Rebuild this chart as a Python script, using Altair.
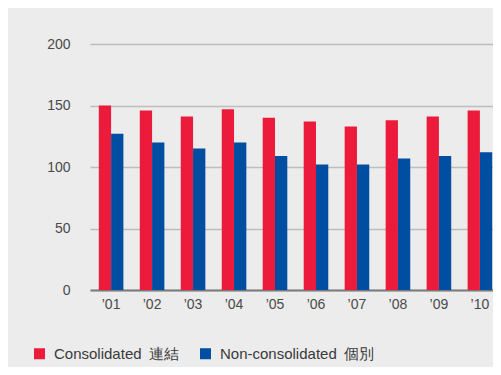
import altair as alt
import pandas as pd

years = ["\u201901", "\u201902", "\u201903", "\u201904", "\u201905",
         "\u201906", "\u201907", "\u201908", "\u201909", "\u201910"]
consolidated = [150, 146, 141, 147, 140, 137, 133, 138, 141, 146]
non_consolidated = [127, 120, 115, 120, 109, 102, 102, 107, 109, 112]
series = ["Consolidated\u2002連結", "Non-consolidated\u2002個別"]
colors = ["#ED1B3B", "#004EA2"]

rows = []
for i, y in enumerate(years):
    rows.append({"year": y, "series": series[0], "value": consolidated[i]})
    rows.append({"year": y, "series": series[1], "value": non_consolidated[i]})
df = pd.DataFrame(rows)

font = "Liberation Sans"

chart = alt.Chart(df).mark_bar().encode(
    x=alt.X("year:N", sort=years,
            scale=alt.Scale(range=[0, 411], paddingInner=0.4, paddingOuter=0.215),
            axis=alt.Axis(title=None, labelAngle=0, ticks=False, domain=True,
                          domainColor="#7a7a7a", domainWidth=2, labelPadding=7,
                          labelFontSize=14, labelColor="#4a4a4a", labelFont=font,
                          grid=False)),
    xOffset=alt.XOffset("series:N", sort=series),
    y=alt.Y("value:Q", scale=alt.Scale(domain=[0, 200], nice=False),
            axis=alt.Axis(title=None, values=[0, 50, 100, 150, 200], grid=True,
                          gridColor="#BDBDBD", gridWidth=1.5, domain=False,
                          ticks=False, labelPadding=20, labelFontSize=14,
                          labelColor="#4a4a4a", labelFont=font)),
    color=alt.Color("series:N", sort=series,
                    scale=alt.Scale(domain=series, range=colors),
                    legend=alt.Legend(title=None, orient="none", direction="horizontal",
                                      legendX=-58, legendY=302, symbolType="square",
                                      symbolSize=121, symbolStrokeWidth=0,
                                      labelFontSize=15, labelFont=font,
                                      labelColor="#3a3a3a", labelOffset=7,
                                      columnPadding=18, padding=0)),
).properties(
    width=403, height=246,
    autosize=alt.AutoSizeParams(type="none"),
    padding={"left": 82, "top": 36, "right": 0, "bottom": 77},
    background="#EBECEB",
).configure_view(stroke=None)

chart.save("out.html", embed_options={"renderer": "svg", "actions": False})
